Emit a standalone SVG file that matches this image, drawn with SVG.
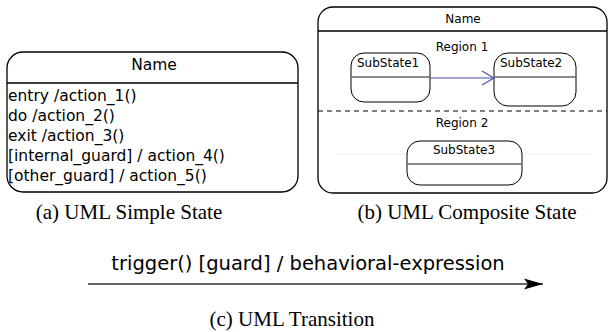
<svg xmlns="http://www.w3.org/2000/svg" width="608" height="332" viewBox="0 0 608 332">
<style>
.st{fill:#fff;stroke:#000;stroke-width:1.3}
.sub{fill:#fff;stroke:#000;stroke-width:1}
.div{stroke:#000;stroke-width:1.3}
.sdiv{stroke:#666;stroke-width:1.3}
.s{font-family:"DejaVu Sans",sans-serif;fill:#000}
.cap{font-family:"Liberation Serif","Times New Roman",serif;fill:#000;font-size:21px}
</style>
<defs>
<marker id="open" markerWidth="14" markerHeight="16" refX="13" refY="8" orient="auto" markerUnits="userSpaceOnUse">
<path d="M1,1 L13,8 L1,15" fill="none" stroke="#4a4aa8" stroke-width="1.2"/>
</marker>
<marker id="filled" markerWidth="20" markerHeight="12" refX="19" refY="6" orient="auto" markerUnits="userSpaceOnUse">
<path d="M0,0.5 L19,6 L0,11.5 L4,6 Z" fill="#000"/>
</marker>
</defs>
<g id="simple-state">
<rect class="st" x="7" y="52" width="291" height="140" rx="16" ry="16"/>
<line class="div" x1="7" y1="83" x2="298" y2="83"/>
<text class="s" x="154" y="70" font-size="15.5" text-anchor="middle">Name</text>
<text class="s" font-size="15.5">
<tspan x="8" y="101">entry /action_1()</tspan>
<tspan x="8" y="121">do /action_2()</tspan>
<tspan x="8" y="141">exit /action_3()</tspan>
<tspan x="8" y="161">[internal_guard] / action_4()</tspan>
<tspan x="8" y="181">[other_guard] / action_5()</tspan>
</text>
</g>
<g id="composite-state">
<rect class="st" x="318" y="7" width="289" height="186" rx="15" ry="15"/>
<line class="div" x1="318" y1="31" x2="607" y2="31"/>
<text class="s" x="463" y="23" font-size="12" text-anchor="middle">Name</text>
<text class="s" x="462" y="51" font-size="12" text-anchor="middle">Region 1</text>
<line x1="318" y1="111" x2="607" y2="111" stroke="#000" stroke-width="1.2" stroke-dasharray="5,4"/>
<text class="s" x="462" y="127" font-size="12" text-anchor="middle">Region 2</text>
<line x1="337" y1="154" x2="592" y2="154" stroke="#eee" stroke-width="1"/>
</g>
<g id="substate1">
<rect class="sub" x="351" y="53" width="79" height="49" rx="13" ry="13"/>
<line class="sdiv" x1="351" y1="77" x2="430" y2="77"/>
<text class="s" x="357" y="67" font-size="12">SubState1</text>
</g>
<g id="substate2">
<rect class="sub" x="494" y="53" width="82" height="53" rx="14" ry="14"/>
<line class="sdiv" x1="494" y1="77" x2="576" y2="77"/>
<text class="s" x="500" y="67" font-size="12">SubState2</text>
</g>
<g id="substate3">
<rect class="sub" x="407" y="141" width="115" height="44" rx="13" ry="13"/>
<line class="sdiv" x1="407" y1="164" x2="522" y2="164"/>
<text class="s" x="464" y="154" font-size="12" text-anchor="middle">SubState3</text>
</g>
<g id="connectors">
<line x1="430" y1="78" x2="494" y2="78" stroke="#4a4aa8" stroke-width="1.2" marker-end="url(#open)"/>
<line x1="88" y1="284" x2="543" y2="284" stroke="#333" stroke-width="1.6" marker-end="url(#filled)"/>
</g>
<g id="transition-label">
<text class="s" x="308" y="270" font-size="19.5" text-anchor="middle">trigger() [guard] / behavioral-expression</text>
</g>
<g id="captions">
<text class="cap" x="129" y="219" text-anchor="middle">(a) UML Simple State</text>
<text class="cap" x="467" y="219" text-anchor="middle">(b) UML Composite State</text>
<text class="cap" x="292" y="326" text-anchor="middle">(c) UML Transition</text>
</g>
</svg>
